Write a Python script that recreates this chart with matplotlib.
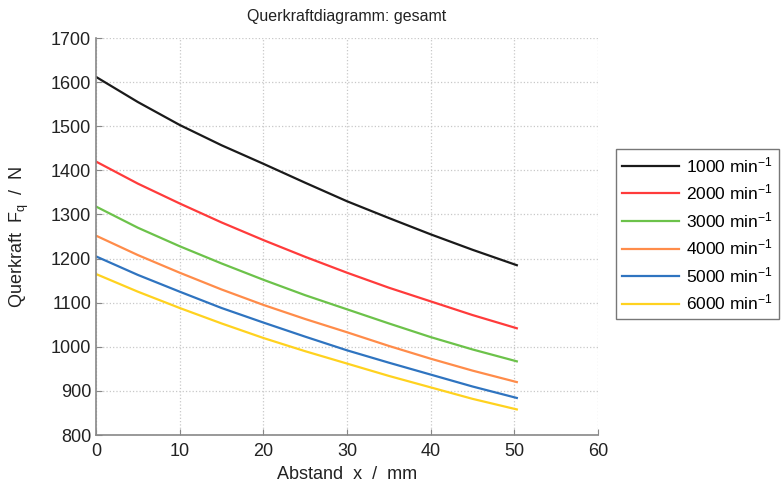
import matplotlib
matplotlib.use("Agg")
import matplotlib.pyplot as plt
import numpy as np

plt.rcParams['font.family'] = ['Liberation Sans', 'DejaVu Sans']
plt.rcParams['mathtext.fontset'] = 'custom'
plt.rcParams['mathtext.rm'] = 'Liberation Sans'
plt.rcParams['mathtext.it'] = 'Liberation Sans'

x = [0, 5, 10, 15, 20, 25, 30, 35, 40, 45, 50.3]
labels = ["1000 min$^{-1}$", "2000 min$^{-1}$", "3000 min$^{-1}$",
          "4000 min$^{-1}$", "5000 min$^{-1}$", "6000 min$^{-1}$"]
s1000 = [1612, 1555, 1503, 1457, 1415, 1372, 1330, 1292, 1255, 1220, 1185]
s2000 = [1420, 1370, 1325, 1282, 1242, 1204, 1168, 1134, 1103, 1072, 1042]
s3000 = [1318, 1270, 1228, 1189, 1152, 1117, 1085, 1053, 1022, 994, 967]
s4000 = [1252, 1208, 1168, 1130, 1095, 1063, 1033, 1002, 973, 946, 920]
s5000 = [1205, 1163, 1125, 1088, 1055, 1023, 992, 964, 937, 910, 884]
s6000 = [1165, 1125, 1088, 1053, 1020, 990, 962, 934, 908, 882, 858]
series = [s1000, s2000, s3000, s4000, s5000, s6000]
colors = ["#1a1a1a", "#ff3b3b", "#6cc24a", "#ff8c4a", "#2f74c0", "#ffd21f"]

fig = plt.figure(figsize=(7.83, 4.88), dpi=100)
ax = fig.add_axes([0.1226, 0.1086, 0.6411, 0.8134])
for s, c, l in zip(series, colors, labels):
    ax.plot(x, s, color=c, lw=1.6, label=l)

ax.set_xlim(0, 60)
ax.set_ylim(800, 1700)
ax.set_xticks(range(0, 61, 10))
ax.set_yticks(range(800, 1701, 100))
ax.grid(True, linestyle=':', color='#c8c8c8', lw=0.9)
for sp in ['top', 'right']:
    ax.spines[sp].set_visible(False)
for sp in ['left', 'bottom']:
    ax.spines[sp].set_color('#888888')
    ax.spines[sp].set_linewidth(1.2)
ax.tick_params(direction='in', labelsize=13, colors='#888888', labelcolor='#222222', length=4)
ax.tick_params(axis='x', pad=6)
ax.set_title("Querkraftdiagramm: gesamt", fontsize=11.5, color='#222222', pad=12)
ax.set_xlabel("Abstand  x  /  mm", fontsize=13, color='#222222', labelpad=4)
ax.set_ylabel("Querkraft  F$_\\mathregular{q}$  /  N", fontsize=13, color='#222222', labelpad=14)

leg = fig.legend(loc='upper left', bbox_to_anchor=(616/783, 1 - 149/488), fontsize=12.5,
                 frameon=True, fancybox=False, edgecolor='#555555', handlelength=3.3,
                 borderpad=0.35, labelspacing=0.44, handletextpad=0.4, borderaxespad=0)
leg.get_frame().set_linewidth(1.0)

fig.savefig("out.png", dpi=100)
